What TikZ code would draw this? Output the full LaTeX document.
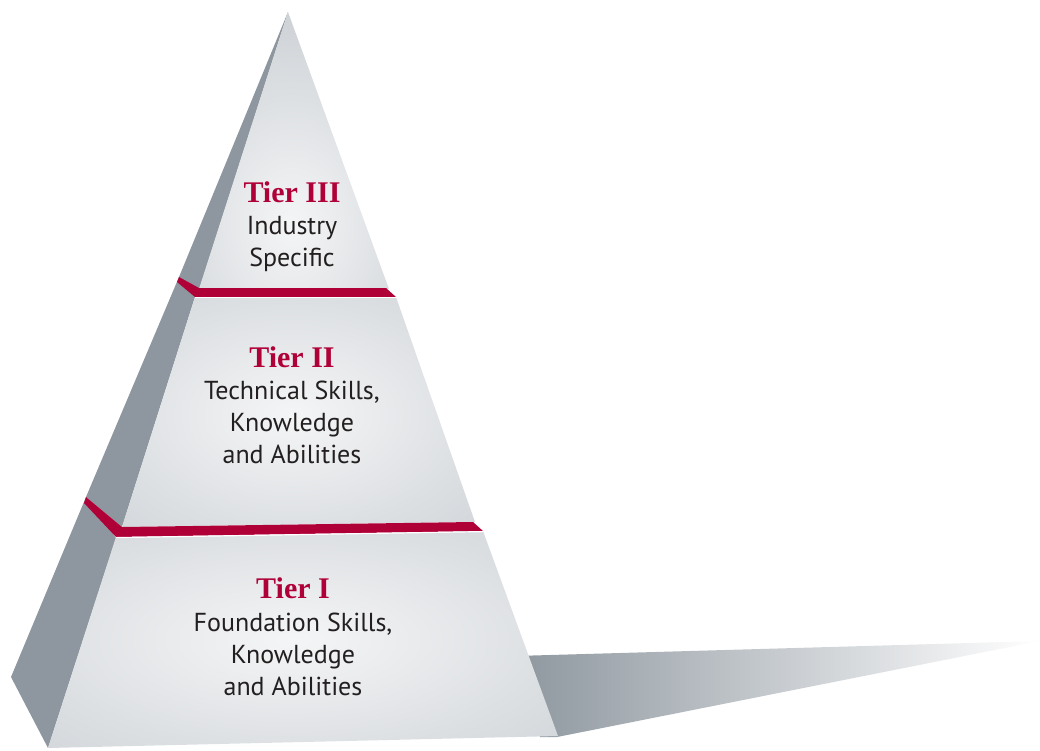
\documentclass[tikz,border=0pt]{standalone}
\usepackage{fontspec}
\setmainfont{PT Sans}
\newfontfamily\tierfont{Liberation Serif}[BoldFont={* Bold}]
\definecolor{tierred}{RGB}{176,0,56}
\definecolor{sidegray}{RGB}{142,151,159}
\definecolor{faceout}{RGB}{197,202,207}
\definecolor{facein}{RGB}{244,245,246}
\definecolor{shadowmid}{RGB}{188,194,199}
\definecolor{txt}{RGB}{35,31,32}
\tikzset{
  sideface/.style={fill=sidegray},
  ledge/.style={fill=tierred},
  gap/.style={draw=white,line width=1.2pt},
  tiertitle/.style={anchor=base,text=tierred,font=\tierfont\bfseries\fontsize{30}{32}\selectfont,inner sep=0pt},
  tierline/.style={anchor=base,text=txt,font=\fontsize{26}{32}\selectfont,inner sep=0pt}
}
\begin{document}
\begin{tikzpicture}[x=1pt,y=-1pt]
\useasboundingbox (0,0) rectangle (1040,750);
% shadow
\shade[left color=sidegray,middle color=shadowmid,right color=white]
  (515,656) -- (1040,641) -- (557,737) -- (540,737) -- cycle;
% Tier III
\fill[sideface] (288,12) -- (179,277) -- (199,290) -- cycle;
\begin{scope}
  \clip (288,12) -- (199,289) -- (389,289) -- cycle;
  \shade[inner color=facein,outer color=faceout] (92,-35) rectangle (492,485);
\end{scope}
% Tier II
\fill[sideface] (179,277) -- (195,297) -- (122,527) -- (86,497) -- cycle;
\begin{scope}
  \clip (195,297) -- (396,297) -- (475,522) -- (122,527) -- cycle;
  \shade[inner color=facein,outer color=faceout] (-68,185) rectangle (652,645);
\end{scope}
\fill[ledge] (179,277) -- (199,288) -- (386,288) -- (396,297) -- (195,297) -- (177,282) -- cycle;
\draw[gap] (195,297.6) -- (396,297.6);
% Tier I
\fill[sideface] (86,497) -- (116,538) -- (48,748) -- (11,677) -- cycle;
\begin{scope}
  \clip (116,537) -- (483,531) -- (558,736) -- (48,748) -- cycle;
  \shade[inner color=facein,outer color=faceout] (-227,420) rectangle (813,860);
\end{scope}
\fill[ledge] (86,497) -- (122,527) -- (473,522) -- (483,531) -- (116,537) -- (84,503) -- cycle;
\draw[gap] (116,537.6) -- (483,531.6);
% texts
\node[tiertitle] (t3) at (292,202) {Tier III};
\node[tierline] (t3a) at (292,234) {Industry};
\node[tierline] (t3b) at (292,266) {Specific};
\node[tiertitle] (t2) at (292,367) {Tier II};
\node[tierline] (t2a) at (292,399) {Technical Skills,};
\node[tierline] (t2b) at (292,431) {Knowledge};
\node[tierline] (t2c) at (292,463) {and Abilities};
\node[tiertitle] (t1) at (293,598) {Tier I};
\node[tierline] (t1a) at (293,631) {Foundation Skills,};
\node[tierline] (t1b) at (293,663) {Knowledge};
\node[tierline] (t1c) at (293,695) {and Abilities};
\end{tikzpicture}
\end{document}
